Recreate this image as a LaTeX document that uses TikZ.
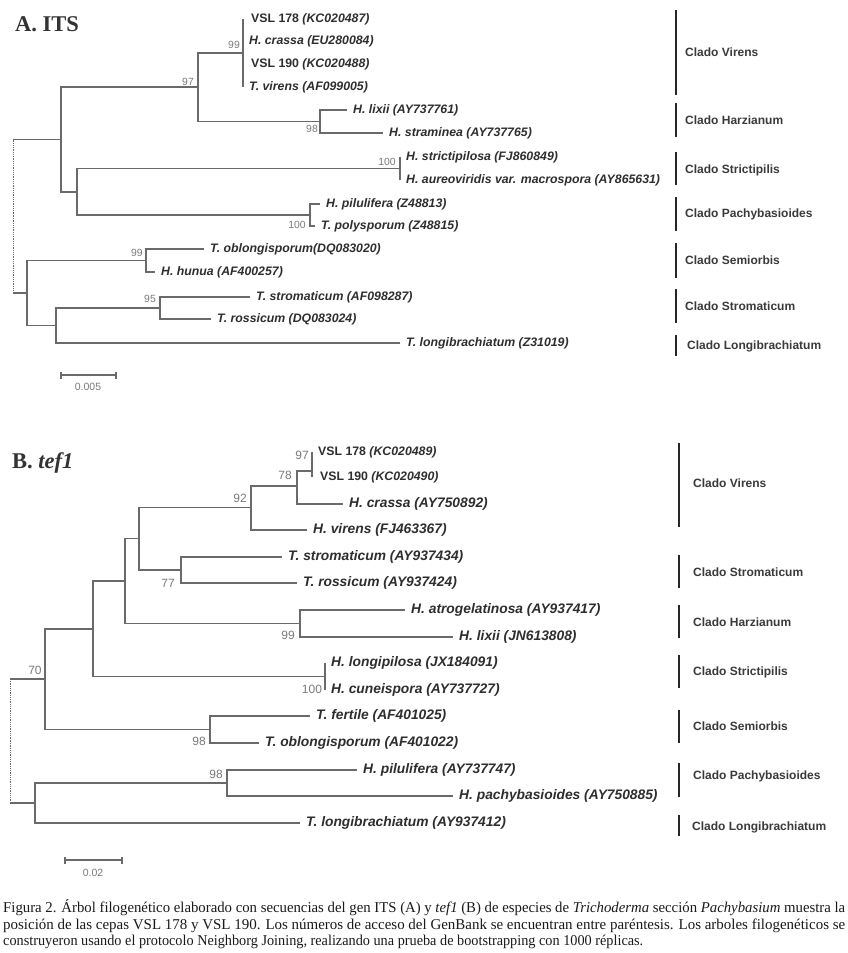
\documentclass[tikz,border=0pt]{standalone}
\usepackage{fontspec}
\usepackage{graphicx}
\setmainfont{Liberation Serif}
\newfontfamily\arialf{Liberation Sans}
\definecolor{brgray}{HTML}{6A6A6A}
\definecolor{tipcol}{HTML}{2E2E2E}
\definecolor{cladecol}{HTML}{3A3A3A}
\definecolor{bootcol}{HTML}{7A7A7A}
\definecolor{capcol}{HTML}{1A1A1A}
\tikzset{
  branch/.style={draw=brgray, line width=1.4pt},
  rootdot/.style={draw=brgray, line width=0.8pt, densely dotted},
  tipA/.style={anchor=west, inner sep=0pt, xshift=6pt, text=tipcol, font=\arialf\bfseries\itshape\fontsize{12.3}{14}\selectfont},
  vslA/.style={anchor=west, inner sep=0pt, xshift=8pt, text=tipcol, font=\arialf\bfseries\fontsize{12.3}{14}\selectfont},
  tipB/.style={anchor=west, inner sep=0pt, xshift=6pt, text=tipcol, font=\arialf\bfseries\itshape\fontsize{13.8}{16}\selectfont},
  vslB/.style={anchor=west, inner sep=0pt, xshift=6pt, text=tipcol, font=\arialf\bfseries\fontsize{12.3}{14}\selectfont},
  bootA/.style={inner sep=0pt, text=bootcol, font=\arialf\fontsize{10.4}{12}\selectfont},
  bootB/.style={inner sep=0pt, text=bootcol, font=\arialf\fontsize{12}{14}\selectfont},
  cladebar/.style={draw=black!85, line width=2.4pt},
  cladelab/.style={anchor=west, inner sep=0pt, text=cladecol, font=\arialf\bfseries\fontsize{12}{14}\selectfont},
  scalebar/.style={draw=brgray, line width=1.1pt},
  scalelab/.style={inner sep=0pt, text=bootcol, font=\arialf\fontsize{10.5}{12}\selectfont},
  titlelab/.style={anchor=west, inner sep=0pt, text=black!80, font=\bfseries\fontsize{22.5}{26}\selectfont},
  caplab/.style={anchor=base west, inner sep=0pt, text=capcol, font=\fontsize{15}{17}\selectfont}
}
\begin{document}
\begin{tikzpicture}[x=1pt,y=-1pt]
\fill[white] (0,0) rectangle (847,953);
\useasboundingbox (0,0) rectangle (847,953);

% ================= A. ITS =================
\node[titlelab] (titleA) at (15,24) {A. ITS};

\coordinate (rA) at (13,216);
\coordinate (nA1) at (61,139.5);
\coordinate (nA2) at (198,87);
\coordinate (nA3) at (243,53);
\coordinate (nA4) at (320,121.5);
\coordinate (nA5) at (77,192);
\coordinate (nA6) at (400,168.5);
\coordinate (nA7) at (310,215);
\coordinate (nA8) at (27,293);
\coordinate (nA9) at (146,260.5);
\coordinate (nA10) at (56,325.5);
\coordinate (nA11) at (160,308);

\coordinate (tA1) at (243,19);
\coordinate (tA2) at (243,41);
\coordinate (tA3) at (243,64);
\coordinate (tA4) at (243,87);
\coordinate (tA5) at (347,110);
\coordinate (tA6) at (383,133);
\coordinate (tA7) at (400,157);
\coordinate (tA8) at (400,180);
\coordinate (tA9) at (320,204);
\coordinate (tA10) at (315,226);
\coordinate (tA11) at (204,249);
\coordinate (tA12) at (155,272);
\coordinate (tA13) at (250,297);
\coordinate (tA14) at (211,319);
\coordinate (tA15) at (400,343);

\draw[rootdot] (rA) -- (rA |- nA1);
\draw[rootdot] (rA) -- (rA |- nA8);
\draw[branch] (rA |- nA1) -- (nA1);
\draw[branch] (rA |- nA8) -- (nA8);
\draw[branch] (nA1) |- (nA2);
\draw[branch] (nA1) |- (nA5);
\draw[branch] (nA2) |- (nA3);
\draw[branch] (nA2) |- (nA4);
\draw[branch] (nA3) |- (tA1);
\draw[branch] (nA3) |- (tA2);
\draw[branch] (nA3) |- (tA3);
\draw[branch] (nA3) |- (tA4);
\draw[branch] (nA4) |- (tA5);
\draw[branch] (nA4) |- (tA6);
\draw[branch] (nA5) |- (nA6);
\draw[branch] (nA5) |- (nA7);
\draw[branch] (nA6) |- (tA7);
\draw[branch] (nA6) |- (tA8);
\draw[branch] (nA7) |- (tA9);
\draw[branch] (nA7) |- (tA10);
\draw[branch] (nA8) |- (nA9);
\draw[branch] (nA8) |- (nA10);
\draw[branch] (nA9) |- (tA11);
\draw[branch] (nA9) |- (tA12);
\draw[branch] (nA10) |- (nA11);
\draw[branch] (nA10) |- (tA15);
\draw[branch] (nA11) |- (tA13);
\draw[branch] (nA11) |- (tA14);

\node[vslA] (lA1) at (tA1) {VSL 178 \textit{(KC020487)}};
\node[tipA] (lA2) at (tA2) {H. crassa (EU280084)};
\node[vslA] (lA3) at (tA3) {VSL 190 \textit{(KC020488)}};
\node[tipA] (lA4) at (tA4) {T. virens (AF099005)};
\node[tipA] (lA5) at (tA5) {H. lixii (AY737761)};
\node[tipA] (lA6) at (tA6) {H. straminea (AY737765)};
\node[tipA] (lA7) at (tA7) {H. strictipilosa (FJ860849)};
\node[tipA] (lA8) at (tA8) {H. aureoviridis var. macrospora (AY865631)};
\node[tipA] (lA9) at (tA9) {H. pilulifera (Z48813)};
\node[tipA] (lA10) at (tA10) {T. polysporum (Z48815)};
\node[tipA] (lA11) at (tA11) {T. oblongisporum(DQ083020)};
\node[tipA] (lA12) at (tA12) {H. hunua (AF400257)};
\node[tipA] (lA13) at (tA13) {T. stromaticum (AF098287)};
\node[tipA] (lA14) at (tA14) {T. rossicum (DQ083024)};
\node[tipA] (lA15) at (tA15) {T. longibrachiatum (Z31019)};

\node[bootA] (bA2) at (188,82) {97};
\node[bootA] (bA3) at (234,45) {99};
\node[bootA] (bA4) at (312,129) {98};
\node[bootA] (bA6) at (387,162) {100};
\node[bootA] (bA7) at (297,225) {100};
\node[bootA] (bA9) at (137,253) {99};
\node[bootA] (bA11) at (150,299) {95};

% clades A
\draw[cladebar] (676,10) -- (676,95);
\node[cladelab] (cA1) at (685,52) {Clado Virens};
\draw[cladebar] (676,103) -- (676,137);
\node[cladelab] (cA2) at (685,120) {Clado Harzianum};
\draw[cladebar] (676,152) -- (676,185);
\node[cladelab] (cA3) at (685,170) {Clado Strictipilis};
\draw[cladebar] (676,197) -- (676,231);
\node[cladelab] (cA4) at (685,214) {Clado Pachybasioides};
\draw[cladebar] (676,243) -- (676,278);
\node[cladelab] (cA5) at (685,260) {Clado Semiorbis};
\draw[cladebar] (676,289) -- (676,323);
\node[cladelab] (cA6) at (685,306) {Clado Stromaticum};
\draw[cladebar] (676,335) -- (676,356);
\node[cladelab] (cA7) at (687,346) {Clado Longibrachiatum};

% scale A
\coordinate (sA1) at (61,375);
\coordinate (sA2) at (116,375);
\draw[scalebar] (sA1) -- (sA2);
\draw[scalebar] ([yshift=-3.5pt]sA1) -- ([yshift=3.5pt]sA1);
\draw[scalebar] ([yshift=-3.5pt]sA2) -- ([yshift=3.5pt]sA2);
\node[scalelab] (sAl) at (88,387) {0.005};

% ================= B. tef1 =================
\node[titlelab] (titleB) at (12,463) {B. \textit{tef1}};

\coordinate (rB) at (10,741);
\coordinate (nB1) at (45,679);
\coordinate (nB2) at (93,629);
\coordinate (nB3) at (125,581);
\coordinate (nB4) at (139,538.5);
\coordinate (nB5) at (251,507.5);
\coordinate (nB6) at (297,486);
\coordinate (nB7) at (312,471);
\coordinate (nB8) at (181,570);
\coordinate (nB9) at (300,623.5);
\coordinate (nB10) at (325,676.5);
\coordinate (nB11) at (210,729.5);
\coordinate (nB12) at (35,803);
\coordinate (nB13) at (227,783);

\coordinate (tB1) at (312,452);
\coordinate (tB2) at (312,477);
\coordinate (tB3) at (343,504);
\coordinate (tB4) at (307,530);
\coordinate (tB5) at (282,557);
\coordinate (tB6) at (297,583);
\coordinate (tB7) at (405,610);
\coordinate (tB8) at (453,637);
\coordinate (tB9) at (325,663);
\coordinate (tB10) at (325,690);
\coordinate (tB11) at (310,716);
\coordinate (tB12) at (259,743);
\coordinate (tB13) at (357,770);
\coordinate (tB14) at (453,796);
\coordinate (tB15) at (300,823);

\draw[rootdot] (rB) -- (rB |- nB1);
\draw[rootdot] (rB) -- (rB |- nB12);
\draw[branch] (rB |- nB1) -- (nB1);
\draw[branch] (rB |- nB12) -- (nB12);
\draw[branch] (nB1) |- (nB2);
\draw[branch] (nB1) |- (nB11);
\draw[branch] (nB2) |- (nB3);
\draw[branch] (nB2) |- (nB10);
\draw[branch] (nB3) |- (nB4);
\draw[branch] (nB3) |- (nB9);
\draw[branch] (nB4) |- (nB5);
\draw[branch] (nB4) |- (nB8);
\draw[branch] (nB5) |- (nB6);
\draw[branch] (nB5) |- (tB4);
\draw[branch] (nB6) |- (nB7);
\draw[branch] (nB6) |- (tB3);
\draw[branch] (nB7) |- (tB1);
\draw[branch] (nB7) |- (tB2);
\draw[branch] (nB8) |- (tB5);
\draw[branch] (nB8) |- (tB6);
\draw[branch] (nB9) |- (tB7);
\draw[branch] (nB9) |- (tB8);
\draw[branch] (nB10) |- (tB9);
\draw[branch] (nB10) |- (tB10);
\draw[branch] (nB11) |- (tB11);
\draw[branch] (nB11) |- (tB12);
\draw[branch] (nB12) |- (nB13);
\draw[branch] (nB12) |- (tB15);
\draw[branch] (nB13) |- (tB13);
\draw[branch] (nB13) |- (tB14);

\node[vslB] (lB1) at (tB1) {VSL 178 \textit{(KC020489)}};
\node[vslB,xshift=2pt] (lB2) at (tB2) {VSL 190 \textit{(KC020490)}};
\node[tipB] (lB3) at (tB3) {H. crassa (AY750892)};
\node[tipB] (lB4) at (tB4) {H. virens (FJ463367)};
\node[tipB] (lB5) at (tB5) {T. stromaticum (AY937434)};
\node[tipB] (lB6) at (tB6) {T. rossicum (AY937424)};
\node[tipB] (lB7) at (tB7) {H. atrogelatinosa (AY937417)};
\node[tipB] (lB8) at (tB8) {H. lixii (JN613808)};
\node[tipB] (lB9) at (tB9) {H. longipilosa (JX184091)};
\node[tipB] (lB10) at (tB10) {H. cuneispora (AY737727)};
\node[tipB] (lB11) at (tB11) {T. fertile (AF401025)};
\node[tipB] (lB12) at (tB12) {T. oblongisporum (AF401022)};
\node[tipB] (lB13) at (tB13) {H. pilulifera (AY737747)};
\node[tipB] (lB14) at (tB14) {H. pachybasioides (AY750885)};
\node[tipB] (lB15) at (tB15) {T. longibrachiatum (AY937412)};

\node[bootB] (bB7) at (302,455) {97};
\node[bootB] (bB6) at (285,475) {78};
\node[bootB] (bB5) at (240,498) {92};
\node[bootB] (bB8) at (168,583) {77};
\node[bootB] (bB9) at (288,635) {99};
\node[bootB] (bB10) at (312,689) {100};
\node[bootB] (bB1) at (35,670) {70};
\node[bootB] (bB11) at (199,741) {98};
\node[bootB] (bB13) at (216,774) {98};

% clades B
\draw[cladebar] (679,443) -- (679,527);
\node[cladelab] (cB1) at (693,483) {Clado Virens};
\draw[cladebar] (679,555) -- (679,588);
\node[cladelab] (cB2) at (693,572) {Clado Stromaticum};
\draw[cladebar] (679,605) -- (679,638);
\node[cladelab] (cB3) at (693,622) {Clado Harzianum};
\draw[cladebar] (679,655) -- (679,688);
\node[cladelab] (cB4) at (693,672) {Clado Strictipilis};
\draw[cladebar] (679,710) -- (679,743);
\node[cladelab] (cB5) at (693,726) {Clado Semiorbis};
\draw[cladebar] (679,763) -- (679,797);
\node[cladelab] (cB6) at (693,776) {Clado Pachybasioides};
\draw[cladebar] (679,815) -- (679,836);
\node[cladelab] (cB7) at (692,827) {Clado Longibrachiatum};

% scale B
\coordinate (sB1) at (65,860);
\coordinate (sB2) at (122,860);
\draw[scalebar] (sB1) -- (sB2);
\draw[scalebar] ([yshift=-3.5pt]sB1) -- ([yshift=3.5pt]sB1);
\draw[scalebar] ([yshift=-3.5pt]sB2) -- ([yshift=3.5pt]sB2);
\node[scalelab] (sBl) at (93,873) {0.02};

% ================= caption =================
\node[caplab] (cap1) at (3,912.5) {\resizebox{842pt}{\height}{Figura 2. Árbol filogenético elaborado con secuencias del gen ITS (A) y \textit{tef1} (B) de especies de \textit{Trichoderma} sección \textit{Pachybasium} muestra la}};
\node[caplab] (cap2) at (3,929) {\resizebox{842pt}{\height}{posición de las cepas VSL 178 y VSL 190. Los números de acceso del GenBank se encuentran entre paréntesis. Los arboles filogenéticos se}};
\node[caplab] (cap3) at (3,945.5) {\resizebox{640pt}{\height}{construyeron usando el protocolo Neighborg Joining, realizando una prueba de bootstrapping con 1000 réplicas.}};
\end{tikzpicture}
\end{document}
